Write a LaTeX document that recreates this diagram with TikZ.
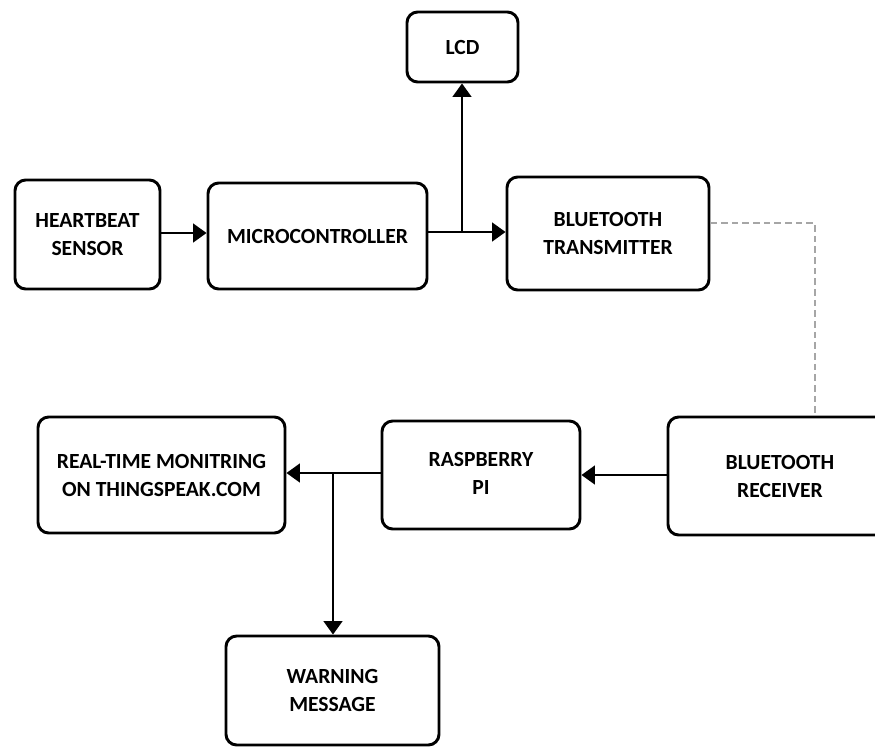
\documentclass[tikz,border=0pt]{standalone}
\usepackage{fontspec}
\setmainfont{Carlito}
\usetikzlibrary{arrows.meta}
\begin{document}
\begin{tikzpicture}[x=0.75pt,y=-0.75pt,
  blk/.style={draw=black, line width=2.2pt, rounded corners=8pt, inner sep=0pt,
    align=center, font=\bfseries\fontsize{16.2}{21}\selectfont},
  conn/.style={line width=1.4pt},
  arr/.style={conn, -{Triangle[length=10pt,width=14pt]}},
  radio/.style={draw=gray!70, line width=0.8pt, dash pattern=on 5pt off 3pt}]
\useasboundingbox (0,0) rectangle (875,747);
\clip (0,0) rectangle (875,747);
\node[blk, minimum width=83.25pt, minimum height=52.5pt] (lcd) at (462.5,47) {LCD};
\node[blk, minimum width=108.75pt, minimum height=81.75pt] (hb) at (87.5,234.5) {HEARTBEAT\\SENSOR};
\node[blk, minimum width=164.25pt, minimum height=79.5pt] (mc) at (317.5,236) {MICROCONTROLLER};
\node[blk, minimum width=151.5pt, minimum height=84.75pt] (bt) at (608,233.5) {BLUETOOTH\\TRANSMITTER};
\node[blk, minimum width=168pt, minimum height=88.5pt] (br) at (780,476) {BLUETOOTH\\RECEIVER};
\node[blk, minimum width=148.5pt, minimum height=81pt] (rpi) at (481,475) {\raisebox{-3pt}{\begin{tabular}{@{}c@{}}RASPBERRY\\PI\end{tabular}}};
\node[blk, minimum width=185.25pt, minimum height=87pt] (rtm) at (161.5,475) {REAL-TIME MONITRING\\ON THINGSPEAK.COM};
\node[blk, minimum width=159.75pt, minimum height=81.75pt] (wm) at (332.5,690.5) {WARNING\\MESSAGE};
\coordinate (a1) at (160,233);
\coordinate (j1) at (462,232);
\coordinate (d1) at (815,223);
\coordinate (a2) at (620,475);
\coordinate (j2) at (333,473);
\draw[arr] (a1 -| hb.east) -- (a1 -| mc.west);
\draw[conn] (j1 -| mc.east) -- (j1);
\draw[arr] (j1) -- (j1 -| bt.west);
\draw[arr] (j1) -- (j1 |- lcd.south);
\draw[radio] (d1 -| bt.east) -- (d1) -- (d1 |- br.north);
\draw[arr] (a2 -| br.west) -- (a2 -| rpi.east);
\draw[conn] (j2 -| rpi.west) -- (j2);
\draw[arr] (j2) -- (j2 -| rtm.east);
\draw[arr] (j2) -- (j2 |- wm.north);
\end{tikzpicture}
\end{document}
